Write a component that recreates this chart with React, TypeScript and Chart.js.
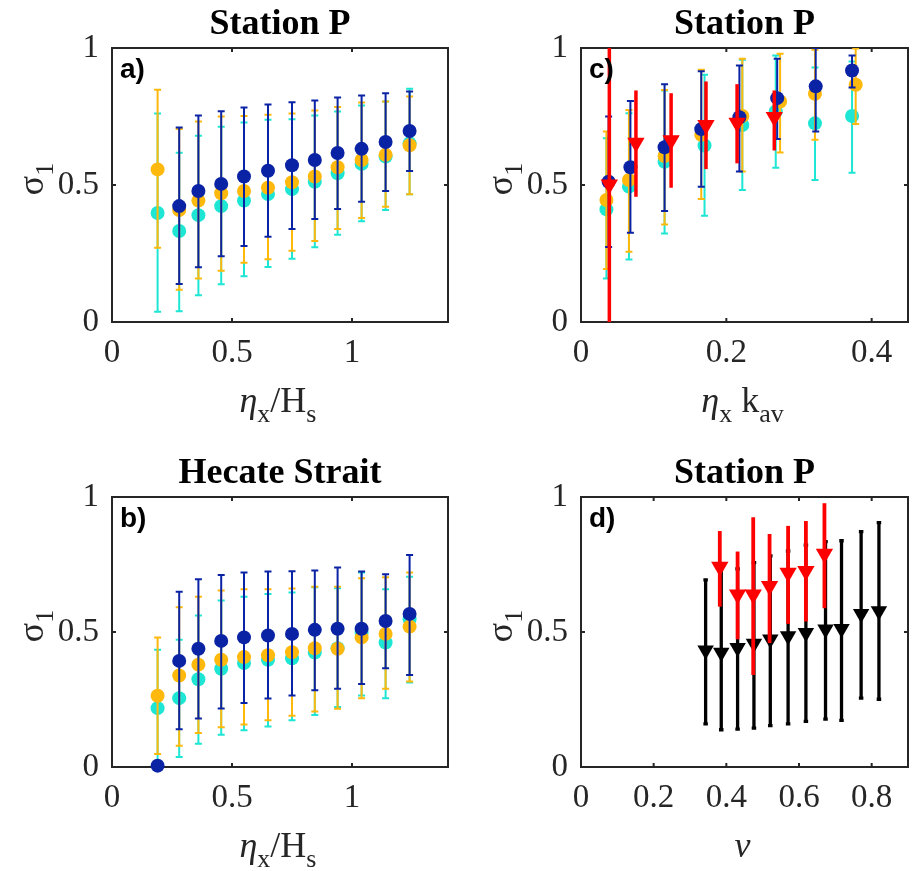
import React, { useEffect, useRef } from "react";
import { Chart, registerables } from "chart.js";
Chart.register(...registerables);

// ---------------- DATA ----------------
// Tick values
const yTicks = [0, 0.5, 1];
const xTicksAB = [0, 0.5, 1];
const xTicksC = [0, 0.2, 0.4];
const xTicksD = [0, 0.2, 0.4, 0.6, 0.8];

// Panel a) Station P, x = eta_x / H_s
const aX = [0.19, 0.28, 0.36, 0.455, 0.55, 0.65, 0.75, 0.845, 0.94, 1.04, 1.14, 1.24];
const aCyan = [0.398, 0.332, 0.39, 0.423, 0.443, 0.467, 0.485, 0.512, 0.543, 0.577, 0.604, 0.652];
const aCyanLow = [0.037, 0.039, 0.098, 0.138, 0.167, 0.201, 0.231, 0.273, 0.318, 0.368, 0.409, 0.466];
const aCyanHigh = [0.761, 0.618, 0.68, 0.713, 0.728, 0.738, 0.74, 0.754, 0.768, 0.79, 0.805, 0.851];
const aOrange = [0.557, 0.409, 0.443, 0.47, 0.478, 0.49, 0.51, 0.531, 0.565, 0.591, 0.61, 0.645];
const aOrangeLow = [0.271, 0.118, 0.159, 0.187, 0.216, 0.229, 0.26, 0.296, 0.339, 0.38, 0.421, 0.466];
const aOrangeHigh = [0.848, 0.704, 0.732, 0.75, 0.752, 0.756, 0.761, 0.772, 0.785, 0.801, 0.805, 0.823];
const aBlueX = [0.28, 0.36, 0.455, 0.55, 0.65, 0.75, 0.845, 0.94, 1.04, 1.14, 1.24];
const aBlue = [0.423, 0.478, 0.504, 0.531, 0.552, 0.572, 0.591, 0.617, 0.632, 0.657, 0.697];
const aBlueLow = [0.139, 0.2, 0.24, 0.277, 0.311, 0.339, 0.376, 0.412, 0.439, 0.478, 0.551];
const aBlueHigh = [0.71, 0.754, 0.769, 0.783, 0.794, 0.802, 0.808, 0.819, 0.827, 0.835, 0.841];

// Panel b) Hecate Strait, x = eta_x / H_s
const bX = [0.19, 0.28, 0.36, 0.455, 0.55, 0.65, 0.75, 0.845, 0.94, 1.04, 1.14, 1.24];
const bCyan = [0.218, 0.255, 0.325, 0.364, 0.385, 0.397, 0.403, 0.424, 0.44, 0.496, 0.461, 0.547];
const bCyanLow = [0.01, 0.037, 0.086, 0.119, 0.136, 0.15, 0.173, 0.193, 0.222, 0.265, 0.255, 0.313];
const bCyanHigh = [0.434, 0.471, 0.561, 0.617, 0.631, 0.641, 0.646, 0.666, 0.662, 0.72, 0.658, 0.705];
const bOrange = [0.264, 0.339, 0.379, 0.397, 0.407, 0.414, 0.425, 0.44, 0.438, 0.48, 0.493, 0.52];
const bOrangeLow = [0.048, 0.079, 0.126, 0.147, 0.157, 0.173, 0.19, 0.206, 0.216, 0.255, 0.29, 0.317];
const bOrangeHigh = [0.48, 0.592, 0.631, 0.654, 0.658, 0.658, 0.661, 0.668, 0.668, 0.699, 0.703, 0.72];
const bBlue = [0.005, 0.393, 0.438, 0.467, 0.48, 0.487, 0.493, 0.508, 0.512, 0.512, 0.541, 0.567];
const bBlueLow = [0.005, 0.14, 0.18, 0.217, 0.237, 0.254, 0.265, 0.284, 0.29, 0.307, 0.366, 0.341];
const bBlueHigh = [0.005, 0.649, 0.695, 0.711, 0.72, 0.724, 0.725, 0.728, 0.739, 0.724, 0.714, 0.785];

// Panel c) Station P, x = eta_x k_av
const cBlueX = [0.038, 0.068, 0.115, 0.1655, 0.218, 0.27, 0.323, 0.373];
const cBlue = [0.512, 0.565, 0.638, 0.704, 0.747, 0.817, 0.86, 0.918];
const cBlueLow = [0.274, 0.326, 0.405, 0.494, 0.549, 0.668, 0.695, 0.856];
const cBlueHigh = [0.75, 0.807, 0.868, 0.915, 0.936, 0.961, 1.0, 0.973];
const cOrangeX = [0.035, 0.066, 0.115, 0.1655, 0.222, 0.274, 0.322, 0.378];
const cOrange = [0.445, 0.518, 0.606, 0.683, 0.752, 0.805, 0.833, 0.866];
const cOrangeLow = [0.193, 0.256, 0.356, 0.449, 0.549, 0.619, 0.665, 0.723];
const cOrangeHigh = [0.695, 0.774, 0.847, 0.921, 0.961, 0.979, 0.994, 0.998];
const cCyanX = [0.035, 0.066, 0.115, 0.17, 0.222, 0.268, 0.322, 0.373];
const cCyan = [0.411, 0.494, 0.585, 0.644, 0.719, 0.768, 0.725, 0.752];
const cCyanLow = [0.159, 0.228, 0.323, 0.388, 0.482, 0.563, 0.518, 0.545];
const cCyanHigh = [0.671, 0.762, 0.845, 0.902, 0.957, 0.973, 0.929, 0.951];
const cRedX = [0.039, 0.0756, 0.124, 0.172, 0.2148, 0.266];
const cRed = [0.502, 0.654, 0.663, 0.719, 0.727, 0.748];
const cRedLow = [-0.1, 0.457, 0.49, 0.558, 0.579, 0.626];
const cRedHigh = [1.1, 0.845, 0.835, 0.878, 0.868, 0.845];

// Panel d) Station P, x = nu
const dBlackX = [0.343, 0.386, 0.431, 0.476, 0.521, 0.57, 0.619, 0.673, 0.717, 0.771, 0.82];
const dBlack = [0.432, 0.424, 0.442, 0.457, 0.473, 0.485, 0.497, 0.51, 0.512, 0.568, 0.578];
const dBlackLow = [0.16, 0.138, 0.14, 0.144, 0.153, 0.16, 0.169, 0.177, 0.173, 0.255, 0.251];
const dBlackHigh = [0.693, 0.74, 0.734, 0.757, 0.782, 0.8, 0.822, 0.835, 0.838, 0.872, 0.905];
const dRedX = [0.382, 0.431, 0.474, 0.519, 0.57, 0.619, 0.67];
const dRed = [0.742, 0.639, 0.639, 0.67, 0.719, 0.726, 0.79];
const dRedLow = [0.594, 0.473, 0.341, 0.459, 0.53, 0.539, 0.588];
const dRedHigh = [0.874, 0.798, 0.925, 0.863, 0.893, 0.911, 0.977];

// ---------------- STYLE ----------------
const BLUE = "#0a23a5";
const ORANGE = "#ffb80c";
const CYAN = "#1ee6d4";
const RED = "#ff0000";
const BLACK = "#000000";
const AXIS = "#262626";
const SERIF = '"Liberation Serif", "Times New Roman", serif';
const SANS = '"Liberation Sans", Arial, sans-serif';

type Seg = { t: string; it?: boolean; sub?: boolean };

function drawSegs(ctx: CanvasRenderingContext2D, segs: Seg[], x: number, y: number, size: number) {
  const subSize = Math.round(size * 0.72);
  const fontFor = (s: Seg) => `${s.it ? "italic " : ""}${s.sub ? subSize : size}px ${SERIF}`;
  const widths: number[] = [];
  let total = 0;
  for (const s of segs) {
    ctx.font = fontFor(s);
    const w = ctx.measureText(s.t).width;
    widths.push(w);
    total += w;
  }
  let cx = x - total / 2;
  ctx.textAlign = "left";
  ctx.textBaseline = "alphabetic";
  segs.forEach((s, i) => {
    ctx.font = fontFor(s);
    ctx.fillText(s.t, cx, y + (s.sub ? size * 0.28 : 0));
    cx += widths[i];
  });
}

function series(
  xs: number[], ys: number[], lo: number[], hi: number[], color: string, order: number,
  opts: { tri?: boolean; radius?: number; lw?: number; cap?: number } = {}
) {
  return {
    data: xs.map((x, i) => ({ x, y: ys[i] })),
    pointRadius: opts.radius ?? 7,
    pointStyle: opts.tri ? "triangle" : "circle",
    rotation: opts.tri ? 180 : 0,
    pointBackgroundColor: color,
    pointBorderColor: color,
    pointBorderWidth: 0,
    showLine: false,
    clip: false,
    order,
    errLow: lo,
    errHigh: hi,
    errColor: color,
    errWidth: opts.lw ?? 2,
    errCap: opts.cap ?? 7,
  };
}

type PanelDef = {
  left: number; top: number; width: number; height: number;
  pad: { top: number; right: number }; yW: number; xH: number;
  xMax: number; xTicks: number[];
  title: string; tag: string; xLabel: Seg[];
  datasets: any[];
};

const yLabel: Seg[] = [{ t: "σ" }, { t: "1", sub: true }];

const panels: PanelDef[] = [
  {
    left: 0, top: 0, width: 459, height: 436, pad: { top: 48, right: 11 }, yW: 112, xH: 114,
    xMax: 1.4, xTicks: xTicksAB, title: "Station P", tag: "a)",
    xLabel: [{ t: "η", it: true }, { t: "x", sub: true }, { t: "/H" }, { t: "s", sub: true }],
    datasets: [
      series(aBlueX, aBlue, aBlueLow, aBlueHigh, BLUE, 1),
      series(aX, aOrange, aOrangeLow, aOrangeHigh, ORANGE, 2),
      series(aX, aCyan, aCyanLow, aCyanHigh, CYAN, 3),
    ],
  },
  {
    left: 459, top: 0, width: 459, height: 436, pad: { top: 48, right: 2 }, yW: 122, xH: 114,
    xMax: 0.45, xTicks: xTicksC, title: "Station P", tag: "c)",
    xLabel: [{ t: "η", it: true }, { t: "x", sub: true }, { t: " k" }, { t: "av", sub: true }],
    datasets: [
      series(cRedX, cRed, cRedLow, cRedHigh, RED, 0, { tri: true, radius: 10, lw: 3.5, cap: 0 }),
      series(cBlueX, cBlue, cBlueLow, cBlueHigh, BLUE, 1),
      series(cOrangeX, cOrange, cOrangeLow, cOrangeHigh, ORANGE, 2),
      series(cCyanX, cCyan, cCyanLow, cCyanHigh, CYAN, 3),
    ],
  },
  {
    left: 0, top: 436, width: 459, height: 435, pad: { top: 61, right: 11 }, yW: 112, xH: 104,
    xMax: 1.4, xTicks: xTicksAB, title: "Hecate Strait", tag: "b)",
    xLabel: [{ t: "η", it: true }, { t: "x", sub: true }, { t: "/H" }, { t: "s", sub: true }],
    datasets: [
      series(bX, bBlue, bBlueLow, bBlueHigh, BLUE, 1),
      series(bX, bOrange, bOrangeLow, bOrangeHigh, ORANGE, 2),
      series(bX, bCyan, bCyanLow, bCyanHigh, CYAN, 3),
    ],
  },
  {
    left: 459, top: 436, width: 459, height: 435, pad: { top: 61, right: 2 }, yW: 122, xH: 104,
    xMax: 0.9, xTicks: xTicksD, title: "Station P", tag: "d)",
    xLabel: [{ t: "ν", it: true }],
    datasets: [
      series(dRedX, dRed, dRedLow, dRedHigh, RED, 0, { tri: true, radius: 10, lw: 3.8, cap: 0 }),
      series(dBlackX, dBlack, dBlackLow, dBlackHigh, BLACK, 1, { tri: true, radius: 9.5, lw: 3.3, cap: 4.5 }),
    ],
  },
];

function makePlugin(p: PanelDef) {
  return {
    id: "panelDecor",
    beforeDatasetsDraw(chart: any) {
      const { ctx, chartArea: ca, scales } = chart;
      ctx.save();
      ctx.strokeStyle = AXIS;
      ctx.lineWidth = 2;
      ctx.strokeRect(ca.left, ca.top, ca.right - ca.left, ca.bottom - ca.top);
      const tl = 4;
      ctx.beginPath();
      for (const v of p.xTicks) {
        const px = scales.x.getPixelForValue(v);
        if (px <= ca.left + 1 || px >= ca.right - 1) continue;
        ctx.moveTo(px, ca.bottom);
        ctx.lineTo(px, ca.bottom - tl);
        ctx.moveTo(px, ca.top);
        ctx.lineTo(px, ca.top + tl);
      }
      for (const v of yTicks) {
        const py = scales.y.getPixelForValue(v);
        if (py <= ca.top + 1 || py >= ca.bottom - 1) continue;
        ctx.moveTo(ca.left, py);
        ctx.lineTo(ca.left + tl, py);
        ctx.moveTo(ca.right, py);
        ctx.lineTo(ca.right - tl, py);
      }
      ctx.stroke();
      ctx.restore();
    },
    beforeDatasetDraw(chart: any, args: any) {
      const ds = chart.data.datasets[args.index];
      if (!ds.errLow) return;
      const { ctx, chartArea: ca, scales } = chart;
      ctx.save();
      ctx.beginPath();
      ctx.rect(ca.left, ca.top, ca.right - ca.left, ca.bottom - ca.top);
      ctx.clip();
      ctx.strokeStyle = ds.errColor;
      ctx.lineWidth = ds.errWidth;
      ctx.lineCap = "butt";
      const cap = ds.errCap;
      ds.data.forEach((pt: any, i: number) => {
        const px = scales.x.getPixelForValue(pt.x);
        const lo = scales.y.getPixelForValue(ds.errLow[i]);
        const hi = scales.y.getPixelForValue(ds.errHigh[i]);
        ctx.beginPath();
        ctx.moveTo(px, lo);
        ctx.lineTo(px, hi);
        if (cap > 0) {
          ctx.moveTo(px - cap / 2, lo);
          ctx.lineTo(px + cap / 2, lo);
          ctx.moveTo(px - cap / 2, hi);
          ctx.lineTo(px + cap / 2, hi);
        }
        ctx.stroke();
      });
      ctx.restore();
    },
    afterDraw(chart: any) {
      const { ctx, chartArea: ca } = chart;
      const cx = (ca.left + ca.right) / 2;
      ctx.save();
      // title
      ctx.fillStyle = "#000";
      ctx.font = `bold 36px ${SERIF}`;
      ctx.textAlign = "center";
      ctx.textBaseline = "alphabetic";
      ctx.fillText(p.title, cx, ca.top - 14);
      // panel tag
      ctx.font = `bold 28px ${SANS}`;
      ctx.textAlign = "left";
      ctx.fillText(p.tag, ca.left + 8, ca.top + 30);
      // x label
      ctx.fillStyle = AXIS;
      drawSegs(ctx, p.xLabel, cx - 2, ca.bottom + 90, 36);
      // y label
      ctx.save();
      ctx.translate(ca.left - 69, (ca.top + ca.bottom) / 2 - 6);
      ctx.rotate(-Math.PI / 2);
      drawSegs(ctx, yLabel, 0, 0, 36);
      ctx.restore();
      ctx.restore();
    },
  };
}

function Panel({ p }: { p: PanelDef }) {
  const ref = useRef<HTMLCanvasElement>(null);
  useEffect(() => {
    if (!ref.current) return;
    const tickFont = { family: SERIF, size: 33 };
    const chart = new Chart(ref.current, {
      type: "scatter",
      data: { datasets: p.datasets },
      options: {
        animation: false,
        responsive: false,
        devicePixelRatio: 1,
        events: [],
        layout: { padding: { top: p.pad.top, right: p.pad.right, left: 0, bottom: 0 } },
        plugins: { legend: { display: false }, tooltip: { enabled: false }, title: { display: false } },
        scales: {
          x: {
            type: "linear",
            min: 0,
            max: p.xMax,
            afterBuildTicks: (s: any) => { s.ticks = p.xTicks.map((v) => ({ value: v })); },
            afterFit: (s: any) => { s.height = p.xH; },
            grid: { display: false, drawTicks: false },
            border: { display: false },
            ticks: { padding: 12, color: AXIS, font: tickFont, maxRotation: 0, autoSkip: false, callback: (v: any) => String(v) },
          },
          y: {
            type: "linear",
            min: 0,
            max: 1,
            afterBuildTicks: (s: any) => { s.ticks = yTicks.map((v) => ({ value: v })); },
            afterFit: (s: any) => { s.width = p.yW; },
            grid: { display: false, drawTicks: false },
            border: { display: false },
            ticks: { padding: 13, color: AXIS, font: tickFont, autoSkip: false, callback: (v: any) => String(v) },
          },
        },
      } as any,
      plugins: [makePlugin(p)],
    });
    return () => chart.destroy();
  }, [p]);
  return (
    <canvas
      ref={ref}
      width={p.width}
      height={p.height}
      style={{ position: "absolute", left: p.left, top: p.top, width: p.width, height: p.height }}
    />
  );
}

export default function App() {
  return (
    <div style={{ position: "fixed", left: 0, top: 0, width: 918, height: 871, background: "#fff", overflow: "hidden" }}>
      {panels.map((p, i) => (
        <Panel key={i} p={p} />
      ))}
    </div>
  );
}
